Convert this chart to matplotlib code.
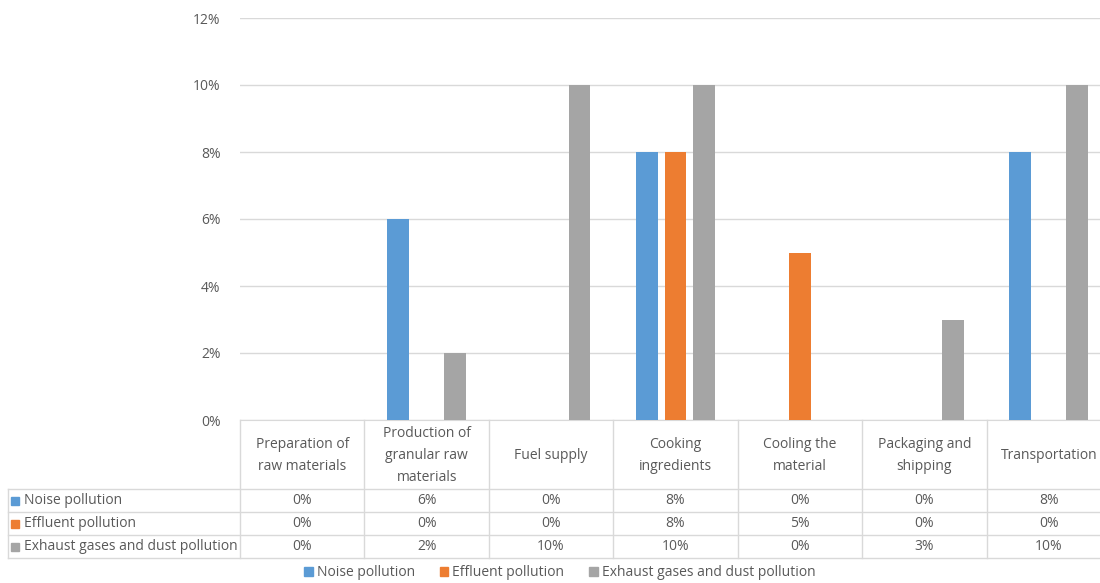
import matplotlib.pyplot as plt
from matplotlib.lines import Line2D
from matplotlib.patches import Rectangle

plt.rcParams['font.family'] = ['Open Sans', 'DejaVu Sans']

categories = ['Preparation of\nraw materials', 'Production of\ngranular raw\nmaterials',
              'Fuel supply', 'Cooking\ningredients', 'Cooling the\nmaterial',
              'Packaging and\nshipping', 'Transportation']
series_names = ['Noise pollution', 'Effluent pollution', 'Exhaust gases and dust pollution']
noise = [0, 6, 0, 8, 0, 0, 8]
effluent = [0, 0, 0, 8, 5, 0, 0]
exhaust = [0, 2, 10, 10, 0, 3, 10]
colors = ['#5B9BD5', '#ED7D31', '#A5A5A5']

W, H = 1100, 583
fig = plt.figure(figsize=(W / 100, H / 100), dpi=100)

# plot area in pixels
x0, x1 = 240, 1111
ytop, ybot = 18, 420
ax = fig.add_axes([x0 / W, 1 - ybot / H, (x1 - x0) / W, (ybot - ytop) / H])

n = len(categories)
bw = 0.174
step = 0.229
series = [noise, effluent, exhaust]
for i, vals in enumerate(series):
    xs = [k + (i - 1) * step for k in range(n)]
    ax.bar(xs, vals, width=bw, color=colors[i], zorder=3)

ax.set_xlim(-0.5, n - 0.5)
ax.set_ylim(0, 12)
ax.set_yticks(range(0, 13, 2))
ax.set_yticklabels(['%d%%' % v for v in range(0, 13, 2)])
ax.set_xticks([])
ax.grid(axis='y', color='#d9d9d9', linewidth=1, zorder=0)
for s in ['top', 'right', 'left']:
    ax.spines[s].set_visible(False)
ax.spines['bottom'].set_color('#d9d9d9')
ax.tick_params(axis='y', length=0, pad=14, labelsize=10, labelcolor='#595959')

# data table below the axis
txtc = '#595959'
linec = '#d9d9d9'
cw = (x1 - x0) / n
rows_y = [420, 489, 512, 535, 558]


def fx(px):
    return px / W


def fy(py):
    return 1 - py / H


def hline(y, xa, xb):
    fig.add_artist(Line2D([fx(xa), fx(xb)], [fy(y), fy(y)], color=linec, lw=1))


def vline(x, ya, yb):
    fig.add_artist(Line2D([fx(x), fx(x)], [fy(ya), fy(yb)], color=linec, lw=1))


for y in rows_y[1:]:
    hline(y, 8, x1)
vline(8, rows_y[1], rows_y[-1])
for k in range(n + 1):
    vline(x0 + k * cw, rows_y[0], rows_y[-1])

for k, cat in enumerate(categories):
    cx = x0 + (k + 0.5) * cw
    fig.text(fx(cx), fy((rows_y[0] + rows_y[1]) / 2 + 1), cat, ha='center', va='center',
             fontsize=10, color=txtc, linespacing=1.68)

for i, vals in enumerate(series):
    ymid = (rows_y[i + 1] + rows_y[i + 2]) / 2
    fig.add_artist(Rectangle((fx(11), fy(ymid + 4)), 8 / W, 8 / H, color=colors[i]))
    fig.text(fx(24), fy(ymid), series_names[i], ha='left', va='center',
             fontsize=10, color=txtc)
    for k, v in enumerate(vals):
        cx = x0 + (k + 0.5) * cw
        fig.text(fx(cx), fy(ymid), '%d%%' % v, ha='center', va='center',
                 fontsize=10, color=txtc)

handles = [Rectangle((0, 0), 1, 1, color=c) for c in colors]
fig.legend(handles, series_names, loc='center', bbox_to_anchor=(fx(560), fy(573)),
           ncol=3, frameon=False, fontsize=10, labelcolor=txtc,
           handlelength=0.6, handleheight=0.6, handletextpad=0.3, columnspacing=1.8)

fig.savefig('out.png', dpi=100)
